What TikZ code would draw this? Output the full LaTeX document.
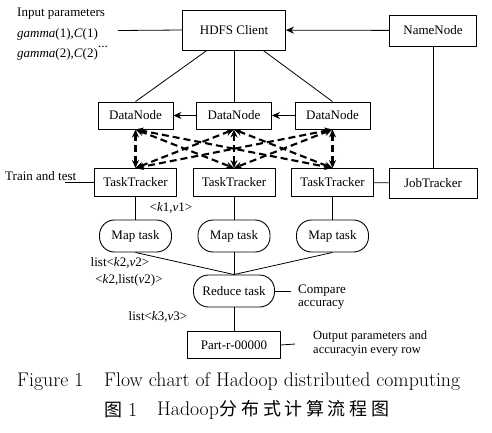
\documentclass[tikz,border=0pt]{standalone}
\usepackage{fontspec}
\usetikzlibrary{arrows.meta}
\newfontfamily\timesfont{Liberation Serif}
\newfontfamily\cjk[LetterSpace=20]{Noto Sans CJK SC}
\tikzset{
  hbox/.style={draw, line width=0.9pt, inner sep=0pt, minimum width=75pt, minimum height=27pt},
  taskbox/.style={draw, line width=0.9pt, rounded corners=15pt, inner sep=0pt, minimum width=72pt, minimum height=32pt},
  lbl/.style={inner sep=0pt},
  dline/.style={<->, line width=2.1pt, dash pattern=on 7pt off 4pt},
  captext/.style={inner sep=0pt, anchor=west, font=\normalfont\fontsize{19.8}{22}\selectfont},
}
\begin{document}
\begin{tikzpicture}[x=1pt, y=-1pt, font=\timesfont\fontsize{13}{12.5}\selectfont, line join=round,
  >={Stealth[length=8pt,width=7pt]}]
\useasboundingbox (0,0) rectangle (492,432);
% Hàng trên
\node[hbox, minimum width=103pt, minimum height=40pt] (client) at (234,30) {HDFS Client};
\node[hbox, minimum width=87pt, minimum height=31pt] (name) at (433,30.5) {NameNode};
\node[lbl, anchor=west] (input) at (17,14) {Input parameters};
\node[lbl, anchor=west] (g1) at (17,34) {\textit{gamma}(1),\textit{C}(1)};
\node[lbl, anchor=west] (g2) at (17,54) {\textit{gamma}(2),\textit{C}(2)};
\node[lbl, anchor=south west] (dots) at (g2.north east) {...};
\coordinate (in) at (118,30.5);
\draw[line width=0.8pt] (in) -- (client.west);
\draw[->, line width=0.8pt] (name) -- (client);
% Các cột
\foreach \i/\x in {1/135.5, 2/234, 3/332.5} {
  \node[hbox] (d\i) at (\x,115.5) {DataNode};
  \node[hbox, minimum width=82pt, minimum height=28pt] (t\i) at (\x,182.5) {TaskTracker};
  \node[taskbox] (m\i) at (\x,236) {Map task};
  \draw[line width=0.8pt] (t\i) -- (m\i);
}
\draw[line width=0.8pt] (client.217) -- (d1.north);
\draw[line width=0.8pt] (client.south) -- (d2.north);
\draw[line width=0.8pt] (client.325) -- (d3.north);
\draw[->, line width=0.8pt] (d2) -- (d1);
\draw[->, line width=0.8pt] (d3) -- (d2);
\foreach \i in {1,2,3} \foreach \j in {1,2,3} \draw[dline] (d\i.south) -- (t\j.north);
\node[hbox, minimum width=88pt, minimum height=30pt] (job) at (433,183) {JobTracker};
\draw[line width=0.8pt] (name) -- (job);
\draw[line width=0.8pt] (t3) -- (job);
\node[lbl, anchor=west] (train) at (5,176) {Train and test};
\coordinate (tr) at (65,182.5);
\draw[line width=0.8pt] (tr) -- (t1.west);
% Reduce
\node[taskbox, minimum width=81pt] (red) at (234,291) {Reduce task};
\foreach \i in {1,2,3} \draw[line width=0.8pt] (m\i.south) -- (red.north);
\coordinate (cmp) at (291,291);
\draw[line width=0.8pt] (red.east) -- (cmp);
\node[lbl, anchor=west, align=left] (acc) at (298,297) {Compare\\accuracy};
\node[hbox, minimum width=93pt] (part) at (234,345) {Part-r-00000};
\draw[line width=0.8pt] (red) -- (part);
\coordinate (out) at (295,344);
\draw[line width=0.8pt] (part.east) -- (out);
\node[lbl, anchor=west, align=left, font=\timesfont\fontsize{12.5}{14}\selectfont] (outtxt) at (313,344) {Output parameters and\\accuracyin every row};
% Nhãn
\node[lbl] (kv1) at (171,208) {\textless\textit{k}1,\textit{v}1\textgreater};
\node[lbl] (kv2) at (120,263) {list\textless\textit{k}2,\textit{v}2\textgreater};
\node[lbl] (kv2l) at (129,280) {\textless\textit{k}2,list(\textit{v}2)\textgreater};
\node[lbl] (kv3) at (158,317) {list\textless\textit{k}3,\textit{v}3\textgreater};
% Chú thích
\node[captext] (fig) at (17,382) {Figure 1};
\node[captext] (cap) at (104,382) {Flow chart of Hadoop distributed computing};
\node[captext] (figzh) at (104,410) {{\cjk\fontsize{18}{22}\selectfont 图}\hspace{6pt}1};
\node[captext] (capzh) at (157,410) {Hadoop\hspace{1pt}{\cjk\fontsize{18}{22}\selectfont 分布式计算流程图}};
\end{tikzpicture}
\end{document}
